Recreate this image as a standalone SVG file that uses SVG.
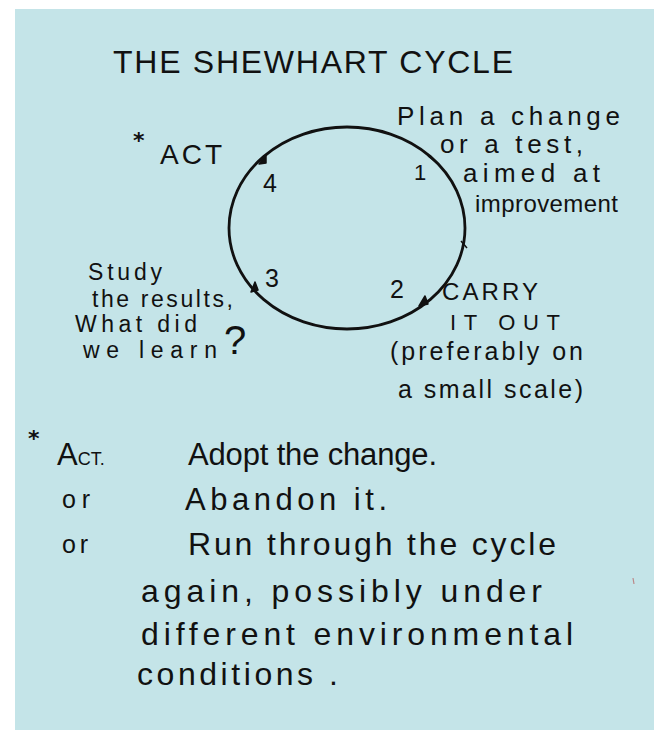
<svg xmlns="http://www.w3.org/2000/svg" width="654" height="730" viewBox="0 0 654 730">
  <style>
    .t { font-family: "Liberation Sans", "DejaVu Sans", Arial, sans-serif; fill: #111; }
    .star { font-family: "DejaVu Sans", sans-serif; font-weight: bold; fill: #111; }
    .cyc { fill: none; stroke: #111; stroke-width: 2.8; }
    .tick { fill: #111; stroke: #111; stroke-width: 1.5; stroke-linejoin: round; }
  </style>
  <rect x="15" y="9" width="639" height="721" fill="#c4e4e8"/>

  <g id="title">
    <text class="t" x="113" y="73" font-size="32" textLength="400" lengthAdjust="spacing">THE SHEWHART CYCLE</text>
  </g>

  <g id="connectors">
    <ellipse class="cyc" cx="347" cy="228" rx="118" ry="101"/>
    <path class="tick" d="M259,164 L266,155 L266,163 Z"/>
    <path class="tick" d="M428,156 L437,163"/>
    <path class="tick" d="M461,241 L467,248"/>
    <path class="tick" d="M425,296 L419,306 L428,304 Z"/>
    <path class="tick" d="M255,282 L251,292 L258,290 Z"/>
  </g>

  <g id="step1-plan">
    <text class="t" x="414" y="180" font-size="22">1</text>
    <text class="t" x="397" y="125" font-size="26" textLength="223" lengthAdjust="spacing">Plan a change</text>
    <text class="t" x="440" y="153" font-size="26" textLength="143" lengthAdjust="spacing">or a test,</text>
    <text class="t" x="463" y="182" font-size="26" textLength="137" lengthAdjust="spacing">aimed at</text>
    <text class="t" x="475" y="212" font-size="24" textLength="143" lengthAdjust="spacing">improvement</text>
  </g>

  <g id="step2-do">
    <text class="t" x="390" y="298" font-size="25">2</text>
    <text class="t" x="442" y="300" font-size="24" textLength="96" lengthAdjust="spacing">CARRY</text>
    <text class="t" x="450" y="330" font-size="22" textLength="110" lengthAdjust="spacing">IT OUT</text>
    <text class="t" x="390" y="360" font-size="25" textLength="193" lengthAdjust="spacing">(preferably on</text>
    <text class="t" x="398" y="398" font-size="25" textLength="185" lengthAdjust="spacing">a small scale)</text>
  </g>

  <g id="step3-study">
    <text class="t" x="265" y="287" font-size="25">3</text>
    <text class="t" x="88" y="280" font-size="23" textLength="74" lengthAdjust="spacing">Study</text>
    <text class="t" x="92" y="307" font-size="23" textLength="141" lengthAdjust="spacing">the results,</text>
    <text class="t" x="75" y="332" font-size="23" textLength="122" lengthAdjust="spacing">What did</text>
    <text class="t" x="83" y="358" font-size="23" textLength="134" lengthAdjust="spacing">we learn</text>
    <text class="t" x="224" y="354" font-size="40">?</text>
  </g>

  <g id="step4-act">
    <text class="t" x="263" y="192" font-size="25">4</text>
    <text class="star" x="133" y="148" font-size="22">*</text>
    <text class="t" x="160" y="164" font-size="28" textLength="62" lengthAdjust="spacing">ACT</text>
  </g>

  <g id="act-note">
    <text class="star" x="28" y="446" font-size="22">*</text>
    <text class="t" x="57" y="465" font-size="31">A<tspan font-size="18">CT.</tspan></text>
    <text class="t" x="188" y="465" font-size="31" textLength="249" lengthAdjust="spacing">Adopt the change.</text>
    <text class="t" x="62" y="508" font-size="25" textLength="28" lengthAdjust="spacing">or</text>
    <text class="t" x="185" y="510" font-size="31" textLength="202" lengthAdjust="spacing">Abandon it.</text>
    <text class="t" x="62" y="553" font-size="25" textLength="26" lengthAdjust="spacing">or</text>
    <text class="t" x="188" y="555" font-size="32" textLength="368" lengthAdjust="spacing">Run through the cycle</text>
    <text class="t" x="141" y="602" font-size="32" textLength="401" lengthAdjust="spacing">again, possibly under</text>
    <text class="t" x="141" y="645" font-size="32" textLength="432" lengthAdjust="spacing">different environmental</text>
    <text class="t" x="137" y="685" font-size="32" textLength="201" lengthAdjust="spacing">conditions .</text>
    <path d="M633,578 L634,584" stroke="#b88" stroke-width="1.2" fill="none"/>
  </g>
</svg>
